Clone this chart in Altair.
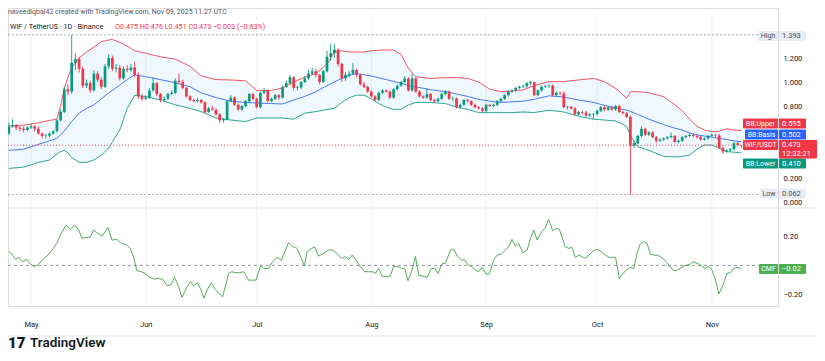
import altair as alt
import pandas as pd

FONT = "Roboto"
START = pd.Timestamp("2025-04-25")

# ---------------- data ----------------
first_open = 0.57
close = [
    .63, .64, .62, .61, .60, .62, .63, .61, .57, .55,
    .553, .57, .59, .68, .75, .94, .92, 1.16, 1.19, 1.11,
    .97, .99, .93, 1.07, 1.02, .96, 1.13, 1.20, 1.11, 1.12,
    1.03, 1.11, 1.10, 1.12, 1.06, .88, .86, .87, .93, .99,
    .90, .85, .86, .90, .91, 1.01, 1.00, .95, .88, .85,
    .84, .85, .83, .75, .78, .77, .73, .68, .69, .84,
    .87, .81, .77, .80, .84, .90, .86, .79, .91, .93,
    .84, .86, .89, .87, .96, .99, 1.04, .95, .955, 1.00,
    1.03, 1.07, 1.09, 1.06, 1.00, 1.09, 1.21, 1.24, 1.27, 1.15,
    1.03, 1.06, 1.07, 1.10, 1.06, .98, .96, .92, .88, .85,
    .91, .93, .92, .87, .94, .97, 1.00, 1.03, .93, 1.03,
    .92, .88, .87, .90, .85, .84, .86, .90, .92, .86,
    .863, .79, .81, .85, .84, .81, .79, .78, .76, .81,
    .80, .81, .84, .86, .89, .92, .93, .95, .96, .965,
    .99, 1.00, .89, .93, .96, .965, .97, .89, .91, .905,
    .79, .795, .78, .73, .75, .745, .72, .73, .735, .76,
    .79, .77, .79, .77, .80, .75, .74, .71, .47, .49,
    .55, .61, .56, .58, .54, .51, .52, .53, .54, .55,
    .50, .51, .54, .55, .56, .55, .54, .52, .53, .55,
    .56, .555, .45, .42, .43, .44, .49, .475, .473,
]
high = [
    .66, .69, .65, .63, .63, .63, .65, .64, .63, .58,
    .57, .58, .60, .69, .77, .96, .98, 1.393, 1.24, 1.21,
    1.13, 1.02, 1.01, 1.10, 1.09, 1.04, 1.15, 1.23, 1.22, 1.15,
    1.14, 1.13, 1.14, 1.15, 1.17, 1.08, .90, .89, .95, 1.04,
    1.00, .91, .88, .91, .93, 1.03, 1.07, 1.02, .96, .89,
    .86, .87, .86, .84, .79, .80, .78, .74, .70, .85,
    .89, .88, .82, .81, .85, .91, .91, .87, .92, .95,
    .94, .87, .90, .90, .97, 1.01, 1.06, 1.05, .97, 1.01,
    1.05, 1.10, 1.12, 1.11, 1.07, 1.10, 1.26, 1.32, 1.32, 1.28,
    1.16, 1.08, 1.09, 1.16, 1.11, 1.07, 1.00, .97, .93, .89,
    .92, .94, .94, .93, .95, .98, 1.01, 1.05, 1.04, 1.07,
    1.04, .93, .89, .95, .91, .86, .87, .91, .93, .93,
    .88, .87, .82, .86, .86, .85, .82, .80, .79, .82,
    .82, .82, .85, .87, .90, .93, .94, .96, .97, .98,
    1.00, 1.01, 1.00, .94, .97, .98, .98, .98, .92, .92,
    .92, .80, .80, .79, .76, .76, .76, .74, .74, .77,
    .80, .80, .80, .80, .81, .81, .76, .75, .72, .51,
    .56, .63, .62, .59, .59, .55, .53, .54, .55, .58,
    .56, .52, .55, .56, .57, .57, .56, .55, .54, .56,
    .57, .57, .57, .46, .44, .45, .50, .50, .476,
]
low = [
    .56, .62, .60, .59, .58, .59, .61, .59, .56, .53,
    .53, .54, .56, .58, .67, .74, .89, .90, 1.10, 1.08,
    .95, .95, .91, .92, 1.00, .94, .95, 1.11, 1.09, 1.08,
    1.01, 1.02, 1.08, 1.08, 1.04, .86, .84, .85, .86, .92,
    .88, .83, .84, .85, .89, .90, .98, .94, .87, .84,
    .83, .83, .82, .74, .74, .76, .72, .66, .66, .68,
    .83, .80, .76, .76, .79, .83, .85, .78, .78, .90,
    .83, .83, .85, .85, .86, .95, .98, .93, .93, .94,
    .99, 1.02, 1.06, 1.04, .98, .99, 1.08, 1.18, 1.20, 1.13,
    1.00, 1.01, 1.04, 1.06, 1.04, .97, .95, .91, .87, .84,
    .84, .90, .91, .86, .86, .93, .96, .99, .92, .92,
    .91, .87, .86, .86, .84, .83, .83, .85, .89, .85,
    .84, .78, .78, .80, .83, .80, .78, .77, .75, .75,
    .79, .79, .80, .83, .85, .88, .91, .92, .94, .95,
    .95, .97, .88, .88, .92, .95, .95, .88, .88, .89,
    .78, .77, .77, .72, .72, .73, .71, .71, .69, .72,
    .75, .76, .76, .76, .76, .74, .73, .70, .062, .45,
    .48, .54, .55, .55, .53, .49, .50, .51, .52, .53,
    .49, .49, .50, .53, .54, .54, .53, .51, .51, .52,
    .54, .54, .44, .40, .41, .42, .43, .46, .451,
]

band_day = [0, 4, 8, 11, 13, 14, 15, 16, 17, 19,
            21, 23, 25, 27, 28, 30, 32, 34, 37, 41,
            45, 49, 52, 56, 60, 64, 67, 71, 74, 77,
            80, 83, 86, 88, 90, 92, 94, 96, 98, 100,
            102, 104, 106, 108, 110, 114, 118, 121, 124, 127,
            130, 133, 136, 139, 142, 146, 150, 154, 158, 161,
            164, 167, 168, 170, 173, 177, 180, 182, 184, 186,
            188, 190, 192, 194, 196, 198]
bb_upper = [.633, .64, .66, .68, .69, .80, .95, 1.04, 1.12, 1.20,
            1.25, 1.29, 1.336, 1.35, 1.355, 1.33, 1.30, 1.26, 1.24, 1.21,
            1.19, 1.13, 1.05, 1.02, 1.017, 1.01, .93, .93, .95, 1.00,
            1.04, 1.07, 1.15, 1.25, 1.26, 1.25, 1.25, 1.25, 1.26, 1.265,
            1.267, 1.267, 1.23, 1.114, 1.044, 1.03, 1.036, 1.036, 1.03, 1.00,
            .94, .92, .925, .935, .97, 1.003, 1.003, 1.017, 1.03, 1.003,
            .947, .865, .92, .92, .91, .878, .81, .76, .69, .63,
            .60, .586, .59, .61, .60, .595]
bb_basis = [.43, .44, .48, .51, .53, .56, .59, .63, .67, .74,
            .78, .81, .86, .91, .93, .975, 1.02, 1.06, 1.044, 1.02,
            .994, .96, .91, .87, .84, .83, .825, .82, .817, .85,
            .88, .92, .97, 1.0, 1.03, 1.055, 1.07, 1.06, 1.05, 1.035,
            1.02, 1.005, .99, .97, .96, .935, .92, .90, .88, .855,
            .84, .83, .835, .84, .855, .885, .875, .85, .83, .805,
            .785, .765, .755, .73, .69, .645, .615, .60, .575, .56,
            .55, .54, .53, .52, .51, .502]
bb_lower = [.28, .29, .33, .35, .40, .42, .43, .41, .37, .33,
            .33, .35, .39, .45, .50, .60, .78, .89, .878, .85,
            .81, .78, .753, .70, .683, .67, .70, .70, .70, .69,
            .74, .753, .77, .78, .83, .87, .89, .89, .86, .82,
            .79, .772, .772, .808, .83, .83, .82, .79, .772, .745,
            .745, .745, .745, .75, .745, .765, .75, .715, .69, .683,
            .675, .63, .55, .46, .43, .38, .375, .38, .39, .44,
            .475, .475, .45, .42, .415, .41]

cmf_day = [0, 0.7, 1.8, 2.7, 3.7, 4.9, 5.8, 7, 8.1, 9.4,
           10.3, 11.7, 13, 14.2, 15.5, 16.6, 17.8, 18.9, 19.8, 21.1,
           22, 22.9, 24.1, 25.2, 26.8, 27.9, 29.2, 30.4, 31.9, 32.8,
           33.7, 34.6, 35.8, 36.9, 37.8, 39.2, 40.5, 41.6, 42.8, 43.7,
           44.8, 45.9, 46.8, 48.2, 49.1, 50, 50.9, 51.8, 52.7, 53.6,
           54.7, 55.8, 57.2, 57.8, 59.4, 60.3, 61.2, 62.3, 63.5, 64.8,
           65.7, 66.8, 68, 68.9, 70.2, 71.3, 72.5, 73.7, 74.6, 75.6,
           76.5, 77.9, 79.2, 79.9, 80.6, 81.5, 82.7, 83.7, 85.1, 86.4,
           87.5, 88.7, 89.9, 90.9, 91.9, 92.8, 93.8, 95, 96.2, 97.3,
           98.3, 99.1, 99.9, 100.9, 102.2, 103.1, 104, 105.2, 106.1,
           107, 107.9, 109, 109.9, 110.8, 111.9, 113.1, 114.2, 115.1, 116,
           117.1, 118, 119.4, 120.3, 121.2, 122.3, 123.2, 124.1, 125.2, 126.1,
           127, 127.9, 129, 129.9, 131.1, 132, 133.1, 134.2, 135.1, 136,
           136.9, 137.8, 138.9, 140.1, 141, 141.9, 142.8, 144, 144.9, 145.9,
           147, 147.9, 148.8, 149.5, 150.4, 151.3, 152.2, 153.1, 154.1, 154.9,
           155.9, 156.8, 157.7, 158.6, 159.5, 160.4, 161.3, 162.3, 163.1, 164,
           165, 165.9, 166.8, 168, 168.9, 169.8, 170.7, 171.6, 172.5, 173.4,
           174.3, 175.2, 176.1, 177.3, 178.4, 179.5, 180.4, 181.5, 182.4, 183.3,
           184.2, 185.1, 186.5, 187.4, 188.3, 189.2, 190.1, 191, 191.9, 193.2,
           194.1, 195, 195.9, 196.8, 197.7]
cmf_val = [.096, .084, .042, .056, .026, .042, .009, -.009, .009, .049,
           .065, .107, .159, .224, .282, .252, .282, .247, .189, .196,
           .196, .247, .224, .205, .266, .177, .182, .154, .142, .119,
           .061, -.037, -.044, -.056, -.079, -.096, -.091, -.098, -.142, -.138,
           -.084, -.149, -.224, -.149, -.114, -.145, -.121, -.161, -.231, -.172,
           -.121, -.168, -.207, -.219, -.056, -.044, -.051, -.051, -.044, -.103,
           -.103, -.103, -.005, -.021, -.021, .026, .056, .037, .096, .159,
           .135, .119, .042, -.005, .096, .112, .131, .065, .084, .107,
           .107, .084, .049, .061, .042, .072, .037, -.009, -.044, -.044,
           -.044, -.056, -.021, -.075, -.079, -.075, -.005, -.009, -.021,
           -.021, -.107, -.033, .061, -.068, -.075, -.084, -.021, -.021, -.056,
           .014, .014, .107, .112, .065, .037, .042, .002, -.009, -.033,
           -.044, -.014, -.061, -.056, .042, .072, .079, .107, .131, .182,
           .135, .154, .089, .107, .189, .247, .177, .235, .259, .322,
           .242, .259, .252, .2, .131, .119, .126, .056, .072, .061,
           .049, .072, .096, .112, .107, .089, .072, .056, .056, .056,
           -.091, -.061, -.033, -.014, -.021, .084, .154, .166, .154, .079,
           .072, .072, .061, .037, .002, -.033, -.037, -.021, -.005, .002,
           .009, .026, .009, -.009, -.021, -.005, -.033, -.103, -.2, -.126,
           -.056, -.051, -.021, -.014, -.021]

month_starts = ["2025-05-01", "2025-06-01", "2025-07-01", "2025-08-01",
                "2025-09-01", "2025-10-01", "2025-11-01"]
price_ticks = [0.0, 0.2, 0.8, 1.0, 1.2]
cmf_ticks = [-0.2, 0.2]
hi_lo = [1.393, 0.062]
last_price = 0.473


def iso(d):
    return (START + pd.to_timedelta(d, unit="D")).strftime("%Y-%m-%dT%H:%M:%SZ")


opens = [first_open] + close[:-1]
candles = pd.DataFrame({
    "date": [iso(i) for i in range(len(close))],
    "open": opens, "close": close, "high": high, "low": low,
})
candles["dir"] = ["up" if c >= o else "down" for o, c in zip(opens, close)]

bands = pd.DataFrame({"date": [iso(d) for d in band_day],
                      "upper": bb_upper, "basis": bb_basis, "lower": bb_lower})
cmf = pd.DataFrame({"date": [iso(d) for d in cmf_day], "cmf": cmf_val})
months = pd.DataFrame({"date": [m + "T00:00:00Z" for m in month_starts]})

# ---------------- scales ----------------
def dt(m, d):
    return alt.DateTime(year=2025, month=m, date=d, utc=True)

x_scale = alt.Scale(type="utc", domain=[dt(4, 25), dt(11, 9)], range=[0.8, 733.4], padding=0)
x_axis = alt.Axis(values=[dt(m, 1) for m in range(5, 12)], format="%b", title=None,
                  grid=False, ticks=False, tickSize=0, domain=False, labelPadding=14,
                  labelFontSize=7.5, labelColor="#131722", labelFont=FONT,
                  labelFlush=False, labelAlign="center", labelOverlap=False)
X = alt.X("date:T", scale=x_scale, axis=x_axis)

py = alt.Scale(domain=[0, 1.4], range=[194, 26], nice=False, zero=False, padding=0)
cy = alt.Scale(domain=[-0.2, 0.2], range=[286, 228.8], nice=False, zero=False, padding=0)
price_axis = alt.Axis(orient="right", values=price_ticks, format=".3f", title=None,
                      grid=False, ticks=False, domain=False, labelPadding=5,
                      labelFontSize=7.5, labelColor="#131722", labelFont=FONT)
cmf_axis = alt.Axis(orient="right", values=cmf_ticks, format=".2f", title=None,
                    grid=False, ticks=False, domain=False, labelPadding=5,
                    labelFontSize=7.5, labelColor="#131722", labelFont=FONT)
cscale = alt.Scale(domain=["up", "down"], range=["#089981", "#f23645"])

ONE = pd.DataFrame({"k": [0]})


def rect(x0, x1, y0, y1, fill):
    return alt.Chart(ONE).mark_rect(color=fill, cornerRadius=1).encode(
        x=alt.value(x0), x2=alt.value(x1), y=alt.value(y0), y2=alt.value(y1))


def txt(s, x, y, color, size=7, align="left", weight="normal"):
    return alt.Chart(ONE).mark_text(text=s, align=align, baseline="middle", fontSize=size,
                                    font=FONT, color=color, fontWeight=weight).encode(
        x=alt.value(x), y=alt.value(y))


def hline(x0, x1, y, color, width=1, dash=None):
    kw = dict(color=color, strokeWidth=width)
    if dash:
        kw["strokeDash"] = dash
    return alt.Chart(ONE).mark_rule(**kw).encode(
        x=alt.value(x0), x2=alt.value(x1), y=alt.value(y))


layers = []
# month grid lines
layers.append(alt.Chart(months).mark_rule(color="#eef0f4", strokeWidth=1).encode(
    x=X, y=alt.value(7), y2=alt.value(298)))
# pane separator and bottom border
layers.append(hline(0, 809, 200, "#e0e3eb"))
layers.append(hline(0, 809, 328, "#e0e3eb"))
# bollinger fill and lines
layers.append(alt.Chart(bands).mark_area(color="#2196f3", opacity=0.07).encode(
    x=X, y=alt.Y("upper:Q", scale=py, axis=None), y2="lower:Q"))
for col, colr in [("upper", "#f23645"), ("basis", "#2962ff"), ("lower", "#089981")]:
    layers.append(alt.Chart(bands).mark_line(color=colr, strokeWidth=1, opacity=0.85).encode(
        x=X, y=alt.Y(f"{col}:Q", scale=py, axis=None)))
# high / low lines (carry the price axis)
layers.append(alt.Chart(pd.DataFrame({"level": hi_lo})).mark_rule(
    color="#9598a1", strokeDash=[2, 2], strokeWidth=0.8).encode(
    y=alt.Y("level:Q", scale=py, axis=price_axis), x=alt.value(0), x2=alt.value(750)))
# last price line
layers.append(alt.Chart(pd.DataFrame({"p": [last_price]})).mark_rule(
    color="#f23645", strokeDash=[1, 2], strokeWidth=0.9).encode(
    y=alt.Y("p:Q", scale=py, axis=None), x=alt.value(0), x2=alt.value(735)))
# cmf zero line
layers.append(alt.Chart(pd.DataFrame({"z": [0.0]})).mark_rule(
    color="#787b86", strokeDash=[3, 3], strokeWidth=0.8).encode(
    y=alt.Y("z:Q", scale=cy, axis=None), x=alt.value(0), x2=alt.value(751)))
# candles
layers.append(alt.Chart(candles).mark_rule(strokeWidth=0.9).encode(
    x=X, y=alt.Y("low:Q", scale=py, axis=None), y2="high:Q",
    color=alt.Color("dir:N", scale=cscale, legend=None)))
layers.append(alt.Chart(candles).mark_bar(size=2.7).encode(
    x=X, y=alt.Y("open:Q", scale=py, axis=None), y2="close:Q",
    color=alt.Color("dir:N", scale=cscale, legend=None)))
# cmf line
layers.append(alt.Chart(cmf).mark_line(color="#43a047", strokeWidth=0.9).encode(
    x=X, y=alt.Y("cmf:Q", scale=cy, axis=cmf_axis)))

# right-hand tags: (name, value, name_x0, y0, y1, bg, fg)
tags = [
    ("High", "1.393", 750, 23, 33, "#e8ecf3", "#4a4e59"),
    ("BB:Upper", "0.595", 735, 110.5, 120.5, "#f23645", "#ffffff"),
    ("BB:Basis", "0.502", 737, 121.5, 131.5, "#2962ff", "#ffffff"),
    ("BB:Lower", "0.410", 735, 150.5, 160.5, "#089981", "#ffffff"),
    ("Low", "0.062", 752, 180.5, 190.5, "#e8ecf3", "#4a4e59"),
    ("CMF", "\u22120.02", 751, 256, 266, "#4caf50", "#ffffff"),
]
for name, val, nx0, y0, y1, bg, fg in tags:
    yc = (y0 + y1) / 2
    layers.append(rect(nx0, 770, y0, y1, bg))
    layers.append(rect(771, 798, y0, y1, bg))
    layers.append(txt(name, (nx0 + 770) / 2, yc, fg, 7, align="center"))
    layers.append(txt(val, 774, yc, fg, 7.5))
# last price tag (two lines)
layers.append(rect(735, 770, 132, 142, "#f23645"))
layers.append(rect(771, 809, 132, 150.5, "#f23645"))
layers.append(txt("WIF/USDT", 752.5, 137, "#ffffff", 7, align="center"))
layers.append(txt("0.473", 774, 137, "#ffffff", 7.5))
layers.append(txt("12:32:21", 774, 146, "#ffffff", 7.5))

# header and footer
layers.append(txt("naveediqbal42 created with TradingView.com, Nov 09, 2025 11:27 UTC",
                  0, 4, "#50535e", 7))
layers.append(txt("WIF / TetherUS \u00b7 1D \u00b7 Binance", 2, 19, "#131722", 7.2))
layers.append(txt("O0.475  H0.476  L0.451  C0.473  \u22120.003 (\u22120.63%)", 107, 19,
                  "#f23645", 7.2))
layers.append(txt("17", 0, 335, "#131722", 15, weight=900))
layers.append(txt("TradingView", 22, 335, "#131722", 13.5, weight=600))

chart = alt.layer(*layers).resolve_scale(y="independent").properties(
    width=770, height=298,
    padding={"left": 0, "top": 0, "right": 39, "bottom": 46},
    autosize=alt.AutoSizeParams(type="none"),
    background="white",
).configure_view(stroke=None).configure(font=FONT)

chart.save("out.html", embed_options={"renderer": "svg", "actions": False})
